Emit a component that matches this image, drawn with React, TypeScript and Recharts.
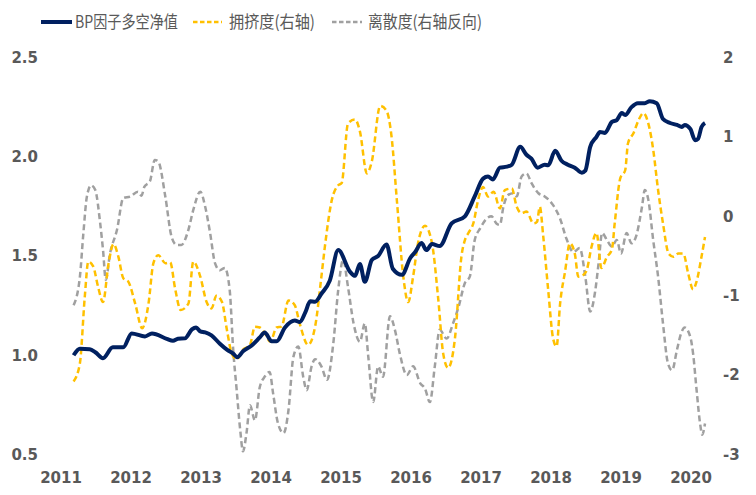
import React from 'react';
import { LineChart, Line, XAxis, YAxis } from 'recharts';

// BP因子多空净值 (left axis)
const bpDates = [
  2011.18, 2011.27, 2011.41, 2011.49, 2011.6, 2011.74, 2011.89, 2012.01, 2012.2, 2012.3,
  2012.51, 2012.6, 2012.67, 2012.77, 2012.87, 2012.93, 2012.99, 2013.06, 2013.15, 2013.27,
  2013.37, 2013.46, 2013.52, 2013.6, 2013.72, 2013.84, 2013.91, 2014.01, 2014.08, 2014.2,
  2014.34, 2014.41, 2014.49, 2014.56, 2014.63, 2014.72, 2014.84, 2014.96, 2015.13, 2015.2,
  2015.27, 2015.34, 2015.44, 2015.53, 2015.65, 2015.74, 2015.87, 2015.99, 2016.06, 2016.15,
  2016.22, 2016.3, 2016.41, 2016.58, 2016.77, 2016.91, 2017.03, 2017.1, 2017.17, 2017.27,
  2017.37, 2017.44, 2017.56, 2017.65, 2017.72, 2017.81, 2017.91, 2017.96, 2018.06, 2018.15,
  2018.24, 2018.34, 2018.44, 2018.49, 2018.56, 2018.65, 2018.7, 2018.77, 2018.87, 2018.94,
  2019.01, 2019.06, 2019.15, 2019.24, 2019.34, 2019.41, 2019.51, 2019.6, 2019.7, 2019.8,
  2019.87, 2019.91, 2019.99, 2020.06, 2020.1, 2020.15, 2020.2,
];
const bpValues = [
  1.0, 1.033, 1.03, 1.015, 0.985, 1.04, 1.04, 1.11, 1.095, 1.11,
  1.083, 1.073, 1.083, 1.085, 1.13, 1.14, 1.12, 1.115, 1.1, 1.058,
  1.028, 1.008, 0.99, 1.02, 1.048, 1.09, 1.115, 1.07, 1.07, 1.14,
  1.175, 1.167, 1.216, 1.272, 1.27, 1.31, 1.376, 1.53, 1.42, 1.4,
  1.46, 1.37, 1.48, 1.5, 1.558, 1.436, 1.405, 1.49, 1.52, 1.565,
  1.53, 1.56, 1.55, 1.664, 1.7, 1.8, 1.89, 1.9, 1.886, 1.945,
  1.95, 1.96, 2.05, 2.01, 1.99, 1.945, 1.96, 1.957, 2.03, 1.98,
  1.96, 1.945, 1.92, 1.93, 2.05, 2.1, 2.125, 2.12, 2.176, 2.185,
  2.22, 2.21, 2.25, 2.27, 2.27, 2.28, 2.27, 2.19, 2.17, 2.16,
  2.15, 2.16, 2.14, 2.083, 2.09, 2.15, 2.17,
];

// 拥挤度 (right axis)
const crowdDates = [
  2011.18, 2011.27, 2011.34, 2011.39, 2011.46, 2011.53, 2011.6, 2011.68, 2011.75, 2011.82,
  2011.89, 2011.96, 2012.06, 2012.16, 2012.25, 2012.32, 2012.39, 2012.49, 2012.56, 2012.63,
  2012.71, 2012.82, 2012.89, 2012.99, 2013.08, 2013.15, 2013.22, 2013.3, 2013.37, 2013.44,
  2013.51, 2013.6, 2013.7, 2013.77, 2013.84, 2013.91, 2013.99, 2014.08, 2014.15, 2014.25,
  2014.34, 2014.41, 2014.53, 2014.63, 2014.72, 2014.77, 2014.87, 2014.96, 2015.01, 2015.1,
  2015.2, 2015.27, 2015.37, 2015.44, 2015.56, 2015.65, 2015.72, 2015.8, 2015.89, 2015.96,
  2016.03, 2016.1, 2016.2, 2016.3, 2016.39, 2016.46, 2016.53, 2016.63, 2016.72, 2016.77,
  2016.82, 2016.89, 2016.96, 2017.03, 2017.1, 2017.18, 2017.27, 2017.34, 2017.44, 2017.51,
  2017.58, 2017.65, 2017.75, 2017.8, 2017.84, 2017.89, 2017.96, 2018.03, 2018.08, 2018.13,
  2018.2, 2018.27, 2018.34, 2018.39, 2018.46, 2018.51, 2018.58, 2018.65, 2018.72, 2018.8,
  2018.87, 2018.91, 2018.99, 2019.06, 2019.1, 2019.18, 2019.25, 2019.32, 2019.39, 2019.46,
  2019.53, 2019.6, 2019.68, 2019.75, 2019.82, 2019.89, 2019.96, 2020.03, 2020.08, 2020.15,
  2020.2,
];
const crowdValues = [
  -2.08, -1.85, -1.01, -0.57, -0.63, -0.89, -1.08, -0.59, -0.35, -0.51,
  -0.78, -0.82, -1.1, -1.41, -1.1, -0.59, -0.49, -0.59, -0.58, -0.91,
  -1.18, -1.1, -0.57, -0.76, -1.08, -1.16, -1.0, -1.08, -1.43, -1.73,
  -1.8, -1.68, -1.62, -1.39, -1.4, -1.47, -1.58, -1.4, -1.39, -1.06,
  -1.12, -1.35, -1.62, -1.39, -0.76, -0.38, 0.21, 0.39, 0.42, 1.17,
  1.22, 1.07, 0.54, 0.69, 1.39, 1.33, 1.02, 0.18, -0.76, -1.08,
  -0.76, -0.34, -0.12, -0.34, -1.05, -1.73, -1.91, -1.52, -0.51, -0.3,
  -0.21, -0.09, 0.21, 0.37, 0.25, 0.31, 0.1, 0.33, 0.35, 0.12,
  0.04, 0.06, -0.09, -0.07, 0.12, -0.26, -0.93, -1.54, -1.64, -1.1,
  -0.7, -0.34, -0.47, -0.76, -0.74, -0.68, -0.38, -0.21, -0.65, -0.51,
  -0.42, -0.09, 0.48, 0.58, 0.92, 1.05, 1.21, 1.3, 1.17, 0.84,
  0.33, -0.09, -0.47, -0.51, -0.47, -0.47, -0.72, -0.92, -0.82, -0.51,
  -0.26,
];

// 离散度 (right axis, reversed)
const dispDates = [
  2011.18, 2011.27, 2011.32, 2011.37, 2011.43, 2011.49, 2011.56, 2011.6, 2011.64, 2011.7,
  2011.8, 2011.89, 2011.99, 2012.1, 2012.15, 2012.19, 2012.27, 2012.34, 2012.39, 2012.49,
  2012.58, 2012.65, 2012.72, 2012.82, 2012.89, 2012.99, 2013.06, 2013.13, 2013.2, 2013.27,
  2013.34, 2013.41, 2013.46, 2013.51, 2013.56, 2013.6, 2013.65, 2013.7, 2013.77, 2013.84,
  2013.91, 2013.98, 2014.03, 2014.1, 2014.18, 2014.25, 2014.32, 2014.39, 2014.46, 2014.51,
  2014.58, 2014.63, 2014.72, 2014.8, 2014.89, 2014.96, 2015.03, 2015.1, 2015.18, 2015.27,
  2015.34, 2015.39, 2015.46, 2015.53, 2015.6, 2015.7, 2015.77, 2015.84, 2015.94, 2016.03,
  2016.13, 2016.2, 2016.27, 2016.34, 2016.41, 2016.51, 2016.6, 2016.68, 2016.77, 2016.84,
  2016.91, 2016.99, 2017.08, 2017.15, 2017.22, 2017.27, 2017.32, 2017.39, 2017.46, 2017.51,
  2017.58, 2017.65, 2017.72, 2017.82, 2017.91, 2018.03, 2018.13, 2018.22, 2018.32, 2018.41,
  2018.49, 2018.56, 2018.63, 2018.68, 2018.73, 2018.8, 2018.87, 2018.94, 2019.0, 2019.08,
  2019.15, 2019.22, 2019.3, 2019.34, 2019.39, 2019.46, 2019.53, 2019.6, 2019.67, 2019.73,
  2019.8, 2019.86, 2019.91, 2019.99, 2020.03, 2020.08, 2020.13, 2020.16, 2020.2,
];
const dispValues = [
  -1.12, -0.76, -0.21, 0.25, 0.39, 0.33, -0.09, -0.42, -0.8, -0.47,
  -0.17, 0.23, 0.25, 0.31, 0.26, 0.37, 0.44, 0.71, 0.69, 0.25,
  -0.26, -0.36, -0.36, -0.17, 0.08, 0.31, 0.12, -0.21, -0.59, -0.68,
  -0.65, -0.93, -1.68, -2.19, -2.69, -2.96, -2.73, -2.38, -2.57, -2.15,
  -2.02, -1.96, -2.23, -2.61, -2.73, -2.44, -1.77, -1.64, -2.02, -2.19,
  -1.89, -1.8, -1.89, -2.06, -1.6, -0.93, -0.55, -0.89, -1.35, -1.58,
  -1.35, -1.77, -2.34, -1.89, -2.02, -1.26, -1.43, -1.73, -2.0, -1.89,
  -2.1, -2.17, -2.34, -1.89, -1.43, -1.54, -1.35, -1.14, -0.84, -0.76,
  -0.3, -0.15, -0.03, 0.0, -0.09, -0.11, 0.12, 0.27, 0.29, 0.25,
  0.5, 0.54, 0.42, 0.29, 0.25, 0.14, -0.03, -0.28, -0.45, -0.4,
  -0.76, -1.2, -0.95, -0.59, -0.21, -0.3, -0.38, -0.3, -0.47, -0.21,
  -0.34, -0.24, 0.12, 0.33, 0.21, -0.3, -0.76, -1.35, -1.85, -1.94,
  -1.68, -1.47, -1.4, -1.52, -1.73, -2.19, -2.61, -2.75, -2.61,
];

const yearTicks = [2011, 2012, 2013, 2014, 2015, 2016, 2017, 2018, 2019, 2020];
const leftTicks = [0.5, 1.0, 1.5, 2.0, 2.5];
const rightTicks = [-3, -2, -1, 0, 1, 2];

const zip = (xs: number[], vs: number[]) => xs.map((x, i) => ({ x, v: vs[i] }));

const bpData = zip(bpDates, bpValues);
const crowdData = zip(crowdDates, crowdValues);
const dispData = zip(dispDates, dispValues);

const NAVY = '#002060';
const GOLD = '#FFC000';
const GREY = '#A0A0A0';
const TICK = { fill: '#595959', fontSize: 15, fontWeight: 700, fontFamily: 'Verdana, "DejaVu Sans", sans-serif' };
const LEGEND_FONT = { fontSize: 17, fill: '#595959', fontFamily: '"Noto Sans CJK SC", sans-serif' };

// legend entries: icon start/end, label start and width
const legendItems = [
  { label: 'BP因子多空净值', color: NAVY, width: 4, dash: undefined, x0: 41, x1: 72, tx: 75, tw: 103 },
  { label: '拥挤度(右轴)', color: GOLD, width: 2.5, dash: '4.5 2.5', x0: 193, x1: 222, tx: 229, tw: 86 },
  { label: '离散度(右轴反向)', color: GREY, width: 2.5, dash: '4.5 2.5', x0: 332, x1: 362, tx: 368, tw: 114 },
];

const LegendRow = () => (
  <svg width={756} height={34} style={{ position: 'absolute', top: 0, left: 0 }}>
    {legendItems.map((it) => (
      <g key={it.label}>
        <line x1={it.x0} y1={22} x2={it.x1} y2={22} stroke={it.color} strokeWidth={it.width} strokeDasharray={it.dash} />
        <text x={it.tx} y={28} textLength={it.tw} lengthAdjust="spacingAndGlyphs" {...LEGEND_FONT}>
          {it.label}
        </text>
      </g>
    ))}
  </svg>
);

export default function App() {
  return (
    <div style={{ position: 'relative', width: 756, height: 495, background: '#fff' }}>
      <style>{'body{margin:0}'}</style>
      <LineChart width={756} height={495} margin={{ top: 57.5, right: 0, bottom: 0, left: 0 }}>
        <XAxis
          dataKey="x"
          type="number"
          domain={[2010.8, 2020.3]}
          ticks={yearTicks}
          allowDataOverflow
          axisLine={false}
          tickLine={false}
          tickMargin={12}
          height={40.5}
          tick={TICK}
        />
        <YAxis
          yAxisId="left"
          domain={[0.5, 2.5]}
          ticks={leftTicks}
          tickFormatter={(v: number) => v.toFixed(1)}
          axisLine={false}
          tickLine={false}
          tickMargin={3}
          width={47}
          tick={TICK}
        />
        <YAxis
          yAxisId="right"
          orientation="right"
          domain={[-3, 2]}
          ticks={rightTicks}
          axisLine={false}
          tickLine={false}
          tickMargin={5}
          width={44}
          tick={TICK}
        />
        <Line
          yAxisId="right"
          data={dispData}
          dataKey="v"
          type="monotone"
          stroke={GREY}
          strokeWidth={2.5}
          strokeDasharray="6 3.5"
          dot={false}
          isAnimationActive={false}
        />
        <Line
          yAxisId="right"
          data={crowdData}
          dataKey="v"
          type="monotone"
          stroke={GOLD}
          strokeWidth={2.5}
          strokeDasharray="6 3.5"
          dot={false}
          isAnimationActive={false}
        />
        <Line
          yAxisId="left"
          data={bpData}
          dataKey="v"
          type="monotone"
          stroke={NAVY}
          strokeWidth={4}
          dot={false}
          isAnimationActive={false}
        />
      </LineChart>
      <LegendRow />
    </div>
  );
}
